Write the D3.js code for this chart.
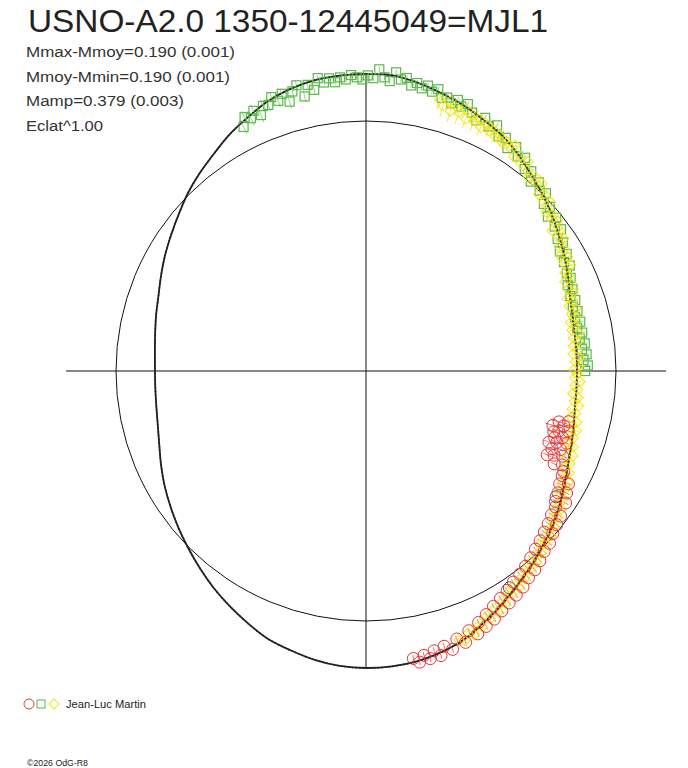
<!DOCTYPE html>
<html lang="en">
<head>
  <meta charset="UTF-8">
  <title>USNO-A2.0 1350-12445049=MJL1</title>
  <style>
    body { margin: 0; background: #fff; }
    text { font-family: "Liberation Sans", Arial, sans-serif; }
  </style>
</head>
<body>

  <svg id="svg" width="688" height="768"></svg>

  <script src="https://d3js.org/d3.v7.min.js"></script>
  <script>
    // phase (0..1, clockwise from top) and delta magnitude from the mean
    const modelCurve = [
      [0.000, -0.190], [0.014, -0.189], [0.028, -0.172], [0.042, -0.150], [0.056, -0.128], [0.069, -0.104],
      [0.083, -0.080], [0.097, -0.048], [0.111, -0.012], [0.125, 0.019], [0.139, 0.050], [0.153, 0.082],
      [0.167, 0.110], [0.181, 0.138], [0.194, 0.162], [0.208, 0.177], [0.222, 0.186], [0.236, 0.189],
      [0.250, 0.190], [0.264, 0.189], [0.278, 0.185], [0.292, 0.172], [0.306, 0.157], [0.319, 0.138],
      [0.333, 0.112], [0.347, 0.081], [0.361, 0.050], [0.375, 0.022], [0.389, -0.008], [0.403, -0.038],
      [0.417, -0.073], [0.431, -0.108], [0.444, -0.140], [0.458, -0.163], [0.472, -0.180], [0.486, -0.188],
      [0.500, -0.190], [0.514, -0.186], [0.528, -0.174], [0.542, -0.156], [0.556, -0.138], [0.569, -0.110],
      [0.583, -0.080], [0.597, -0.050], [0.611, -0.018], [0.625, 0.013], [0.639, 0.042], [0.653, 0.070],
      [0.667, 0.097], [0.681, 0.125], [0.694, 0.150], [0.708, 0.170], [0.722, 0.182], [0.736, 0.188],
      [0.750, 0.190], [0.764, 0.186], [0.778, 0.176], [0.792, 0.162], [0.806, 0.146], [0.819, 0.124],
      [0.833, 0.098], [0.847, 0.072], [0.861, 0.043], [0.875, 0.010], [0.889, -0.020], [0.903, -0.050],
      [0.917, -0.085], [0.931, -0.115], [0.944, -0.145], [0.958, -0.168], [0.972, -0.182], [0.986, -0.188]
    ]

    // green squares: [phase, dmag, error]
    const greenObs = [
      [0.926, -0.084, 0.035], [0.929, -0.121, 0.030], [0.932, -0.105, 0.035], [0.935, -0.130, 0.030],
      [0.938, -0.100, 0.035], [0.941, -0.134, 0.030], [0.944, -0.130, 0.030], [0.947, -0.158, 0.025],
      [0.950, -0.133, 0.030], [0.953, -0.158, 0.025], [0.956, -0.115, 0.030], [0.959, -0.155, 0.025],
      [0.962, -0.177, 0.020], [0.965, -0.121, 0.025], [0.968, -0.168, 0.020], [0.971, -0.141, 0.020],
      [0.974, -0.189, 0.012], [0.977, -0.166, 0.012], [0.980, -0.181, 0.012], [0.983, -0.161, 0.012],
      [0.986, -0.180, 0.012], [0.989, -0.169, 0.012], [0.992, -0.187, 0.012], [0.995, -0.176, 0.012],
      [0.998, -0.166, 0.012], [0.001, -0.184, 0.012], [0.004, -0.172, 0.012], [0.007, -0.212, 0.012],
      [0.010, -0.178, 0.012], [0.013, -0.163, 0.012], [0.016, -0.204, 0.012], [0.019, -0.175, 0.012],
      [0.022, -0.185, 0.012], [0.025, -0.155, 0.012], [0.028, -0.170, 0.012], [0.031, -0.151, 0.012],
      [0.034, -0.168, 0.012], [0.037, -0.146, 0.012], [0.040, -0.163, 0.012], [0.043, -0.130, 0.012],
      [0.046, -0.138, 0.012], [0.049, -0.119, 0.012], [0.052, -0.142, 0.012], [0.055, -0.120, 0.012],
      [0.058, -0.140, 0.012], [0.062, -0.112, 0.012], [0.066, -0.088, 0.012], [0.070, -0.114, 0.012],
      [0.074, -0.087, 0.012], [0.078, -0.108, 0.012], [0.082, -0.068, 0.012], [0.086, -0.079, 0.012],
      [0.090, -0.044, 0.012], [0.094, -0.069, 0.012], [0.098, -0.039, 0.012], [0.102, -0.053, 0.012],
      [0.106, -0.013, 0.012], [0.110, -0.023, 0.012], [0.114, 0.013, 0.012], [0.118, -0.008, 0.012],
      [0.122, 0.016, 0.012], [0.126, 0.005, 0.012], [0.130, 0.044, 0.012], [0.134, 0.033, 0.012],
      [0.138, 0.068, 0.012], [0.142, 0.043, 0.012], [0.146, 0.072, 0.012], [0.150, 0.057, 0.012],
      [0.154, 0.094, 0.012], [0.158, 0.084, 0.012], [0.162, 0.116, 0.012], [0.166, 0.096, 0.012],
      [0.170, 0.124, 0.012], [0.174, 0.108, 0.012], [0.178, 0.136, 0.012], [0.182, 0.129, 0.012],
      [0.186, 0.154, 0.012], [0.190, 0.141, 0.012], [0.194, 0.160, 0.012], [0.198, 0.146, 0.012],
      [0.202, 0.165, 0.012], [0.206, 0.151, 0.012], [0.210, 0.168, 0.012], [0.214, 0.151, 0.012],
      [0.218, 0.170, 0.012], [0.222, 0.152, 0.012], [0.226, 0.167, 0.012], [0.230, 0.148, 0.012],
      [0.234, 0.163, 0.012], [0.238, 0.145, 0.012], [0.242, 0.160, 0.012], [0.246, 0.142, 0.012],
      [0.250, 0.154, 0.012]
    ]

    // yellow diamonds: [phase, dmag, error]
    const yellowObs = [
      [0.042, -0.120, 0.045], [0.045, -0.098, 0.050], [0.048, -0.125, 0.035], [0.050, -0.085, 0.050],
      [0.053, -0.110, 0.040], [0.055, -0.092, 0.055], [0.058, -0.118, 0.030], [0.060, -0.075, 0.045],
      [0.063, -0.100, 0.040], [0.065, -0.082, 0.050], [0.068, -0.098, 0.030], [0.070, -0.068, 0.040],
      [0.073, -0.090, 0.035], [0.075, -0.070, 0.030], [0.078, -0.082, 0.030], [0.080, -0.060, 0.030],
      [0.083, -0.074, 0.025], [0.085, -0.055, 0.025], [0.088, -0.066, 0.020],
      [0.090, -0.054, 0.012], [0.093, -0.073, 0.012], [0.096, -0.028, 0.012], [0.099, -0.047, 0.012],
      [0.102, -0.021, 0.012], [0.105, -0.047, 0.012], [0.108, -0.014, 0.012], [0.111, 0.006, 0.012],
      [0.114, -0.017, 0.012], [0.117, 0.003, 0.012], [0.120, -0.014, 0.012], [0.123, 0.031, 0.012],
      [0.126, 0.013, 0.012], [0.129, 0.040, 0.012], [0.132, 0.017, 0.012], [0.135, 0.061, 0.012],
      [0.138, 0.046, 0.012], [0.141, 0.063, 0.012], [0.144, 0.047, 0.012], [0.147, 0.092, 0.012],
      [0.150, 0.065, 0.012], [0.153, 0.086, 0.012], [0.156, 0.070, 0.012], [0.159, 0.108, 0.012],
      [0.162, 0.094, 0.012], [0.165, 0.126, 0.012], [0.168, 0.098, 0.012], [0.171, 0.126, 0.012],
      [0.174, 0.104, 0.012], [0.177, 0.142, 0.012], [0.180, 0.132, 0.012], [0.183, 0.160, 0.012],
      [0.186, 0.135, 0.012], [0.189, 0.159, 0.012], [0.192, 0.142, 0.012], [0.195, 0.177, 0.012],
      [0.198, 0.158, 0.012], [0.201, 0.180, 0.012], [0.204, 0.155, 0.012], [0.207, 0.180, 0.012],
      [0.210, 0.166, 0.012], [0.213, 0.194, 0.012], [0.216, 0.176, 0.012], [0.219, 0.194, 0.012],
      [0.222, 0.170, 0.012], [0.225, 0.195, 0.012], [0.228, 0.177, 0.012], [0.231, 0.200, 0.012],
      [0.234, 0.185, 0.012], [0.237, 0.205, 0.012], [0.240, 0.177, 0.012], [0.243, 0.196, 0.012],
      [0.246, 0.182, 0.012], [0.249, 0.204, 0.012], [0.252, 0.188, 0.012], [0.255, 0.200, 0.012],
      [0.258, 0.175, 0.012], [0.261, 0.197, 0.012], [0.264, 0.183, 0.012], [0.267, 0.204, 0.012],
      [0.270, 0.177, 0.012], [0.273, 0.191, 0.012], [0.276, 0.170, 0.012], [0.279, 0.196, 0.012],
      [0.282, 0.177, 0.012], [0.285, 0.193, 0.012], [0.288, 0.164, 0.012], [0.291, 0.179, 0.012],
      [0.294, 0.156, 0.012], [0.297, 0.179, 0.012], [0.300, 0.160, 0.012], [0.303, 0.176, 0.012],
      [0.306, 0.147, 0.012], [0.309, 0.161, 0.012], [0.312, 0.134, 0.012], [0.315, 0.156, 0.012],
      [0.318, 0.133, 0.012], [0.321, 0.148, 0.012], [0.324, 0.118, 0.012], [0.327, 0.131, 0.012],
      [0.330, 0.103, 0.012], [0.333, 0.124, 0.012], [0.336, 0.099, 0.012], [0.339, 0.114, 0.012],
      [0.342, 0.082, 0.012], [0.345, 0.093, 0.012], [0.348, 0.065, 0.012], [0.351, 0.084, 0.012],
      [0.354, 0.059, 0.012], [0.357, 0.073, 0.012], [0.360, 0.042, 0.012], [0.363, 0.054, 0.012],
      [0.366, 0.026, 0.012], [0.369, 0.046, 0.012], [0.372, 0.022, 0.012], [0.375, 0.036, 0.012],
      [0.378, 0.006, 0.012], [0.381, 0.017, 0.012], [0.384, -0.011, 0.012], [0.387, 0.008, 0.012],
      [0.390, -0.016, 0.012], [0.393, -0.003, 0.012], [0.396, -0.033, 0.012], [0.399, -0.021, 0.012],
      [0.402, -0.050, 0.012], [0.405, -0.031, 0.012], [0.408, -0.057, 0.012], [0.411, -0.044, 0.012],
      [0.414, -0.076, 0.012], [0.417, -0.065, 0.012], [0.420, -0.094, 0.012], [0.423, -0.076, 0.012],
      [0.426, -0.101, 0.012], [0.429, -0.089, 0.012], [0.432, -0.120, 0.012], [0.435, -0.110, 0.012],
      [0.438, -0.139, 0.012], [0.441, -0.121, 0.012], [0.444, -0.146, 0.012], [0.447, -0.135, 0.012]
    ]

    // red circles: [phase, dmag, error]
    const redObs = [
      [0.289, 0.200, 0.030], [0.291, 0.240, 0.035], [0.293, 0.215, 0.030], [0.295, 0.262, 0.035],
      [0.296, 0.190, 0.025], [0.298, 0.230, 0.030], [0.300, 0.250, 0.030], [0.302, 0.205, 0.025],
      [0.304, 0.238, 0.025], [0.305, 0.180, 0.020], [0.307, 0.222, 0.025], [0.309, 0.255, 0.025],
      [0.311, 0.196, 0.020], [0.313, 0.232, 0.020], [0.315, 0.175, 0.020], [0.317, 0.212, 0.020],
      [0.319, 0.240, 0.020], [0.321, 0.160, 0.015], [0.323, 0.195, 0.015], [0.325, 0.142, 0.015],
      [0.328, 0.140, 0.015], [0.331, 0.098, 0.015], [0.334, 0.132, 0.015], [0.337, 0.085, 0.015],
      [0.340, 0.118, 0.015], [0.343, 0.065, 0.015], [0.346, 0.106, 0.015], [0.349, 0.092, 0.015],
      [0.352, 0.050, 0.015], [0.355, 0.085, 0.015], [0.358, 0.040, 0.015], [0.361, 0.072, 0.015],
      [0.364, 0.028, 0.015], [0.367, 0.060, 0.015], [0.370, 0.010, 0.015], [0.373, 0.048, 0.015],
      [0.376, 0.002, 0.015], [0.379, 0.036, 0.015], [0.382, -0.015, 0.015], [0.385, 0.022, 0.015],
      [0.388, -0.030, 0.015], [0.391, 0.008, 0.015], [0.394, -0.040, 0.015], [0.397, -0.004, 0.015],
      [0.400, -0.058, 0.015], [0.403, -0.015, 0.015], [0.406, -0.070, 0.015], [0.409, -0.030, 0.015],
      [0.412, -0.082, 0.015], [0.415, -0.045, 0.015], [0.418, -0.096, 0.015], [0.421, -0.060, 0.015],
      [0.424, -0.112, 0.015], [0.427, -0.078, 0.015], [0.430, -0.125, 0.015], [0.433, -0.095, 0.015],
      [0.436, -0.140, 0.015], [0.440, -0.112, 0.015], [0.444, -0.155, 0.015], [0.448, -0.128, 0.015],
      [0.452, -0.166, 0.015], [0.456, -0.142, 0.015], [0.459, -0.178, 0.015], [0.462, -0.150, 0.015],
      [0.465, -0.180, 0.015], [0.468, -0.160, 0.015], [0.471, -0.186, 0.015], [0.474, -0.165, 0.015]
    ]

    // black circles
    const blackObs = [[0.343, 0.115, 0.015], [0.407, -0.026, 0.015]]

    const statLines = ['Mmax-Mmoy=0.190 (0.001)', 'Mmoy-Mmin=0.190 (0.001)', 'Mamp=0.379 (0.003)', 'Eclat^1.00']
    const statWidths = [209, 204, 158, 77]
    const observer = 'Jean-Luc Martin'

    const cx = 366, cy = 371, R = 250
    const svg = d3.select('#svg').style('background-color', 'white')
    svg.append('rect').attr('width', 688).attr('height', 768).attr('fill', 'white')

    const angle = d => d[0] * 2 * Math.PI
    const rScale = d3.scaleLinear()
      .domain([-0.19, 0.19])
      .range([297, 211])

    const g = svg.append('g').attr('transform', `translate(${cx},${cy})`)

    // reference circle and axes
    g.append('circle').attr('r', R).attr('fill', 'none').attr('stroke', '#111').attr('stroke-width', 1)
    g.append('line').attr('x1', -R * 1.2).attr('x2', R * 1.2).attr('y1', 0).attr('y2', 0)
      .attr('stroke', '#111').attr('stroke-width', 1)
    g.append('line').attr('y1', -R * 1.19).attr('y2', R * 1.19).attr('x1', 0).attr('x2', 0)
      .attr('stroke', '#111').attr('stroke-width', 1)

    // model curve (solid underneath the points)
    const line = d3.lineRadial()
      .angle(angle)
      .radius(d => rScale(d[1]))
      .curve(d3.curveCatmullRomClosed.alpha(0.5))
    g.append('path')
      .datum(modelCurve)
      .attr('d', line)
      .attr('fill', 'none')
      .attr('stroke', '#222')
      .attr('stroke-width', 1.8)

    const pt = (d, dm) => d3.pointRadial(angle(d), rScale(dm === undefined ? d[1] : dm))

    function errorBars(data, color) {
      g.append('g').selectAll('line')
        .data(data)
        .enter()
        .append('line')
        .attr('x1', d => pt(d, d[1] - d[2])[0])
        .attr('y1', d => pt(d, d[1] - d[2])[1])
        .attr('x2', d => pt(d, d[1] + d[2])[0])
        .attr('y2', d => pt(d, d[1] + d[2])[1])
        .attr('stroke', color)
        .attr('stroke-width', 0.8)
    }

    errorBars(greenObs, '#7cc766')
    errorBars(yellowObs, '#f3e21a')
    errorBars(redObs, '#ec4a4a')

    // green squares
    g.append('g').selectAll('rect')
      .data(greenObs)
      .enter()
      .append('rect')
      .attr('x', d => pt(d)[0] - 4.5)
      .attr('y', d => pt(d)[1] - 4.5)
      .attr('width', 9).attr('height', 9)
      .attr('fill', 'none')
      .attr('stroke', '#5cb84a')
      .attr('stroke-width', 1.2)

    // yellow diamonds
    g.append('g').selectAll('rect')
      .data(yellowObs)
      .enter()
      .append('rect')
      .attr('x', -3.6).attr('y', -3.6).attr('width', 7.2).attr('height', 7.2)
      .attr('transform', d => `translate(${pt(d)[0]},${pt(d)[1]}) rotate(45)`)
      .attr('fill', 'none')
      .attr('stroke', '#f5e414')
      .attr('stroke-width', 1)

    // red circles
    g.append('g').selectAll('circle')
      .data(redObs)
      .enter()
      .append('circle')
      .attr('cx', d => pt(d)[0])
      .attr('cy', d => pt(d)[1])
      .attr('r', 6)
      .attr('fill', 'none')
      .attr('stroke', '#e83434')
      .attr('stroke-width', 1)

    g.append('g').selectAll('circle')
      .data(blackObs)
      .enter()
      .append('circle')
      .attr('cx', d => pt(d)[0])
      .attr('cy', d => pt(d)[1])
      .attr('r', 6)
      .attr('fill', 'none')
      .attr('stroke', '#555')
      .attr('stroke-width', 1)

    // model curve again, dotted on top
    g.append('path')
      .datum(modelCurve)
      .attr('d', line)
      .attr('fill', 'none')
      .attr('stroke', '#222')
      .attr('stroke-width', 1.6)
      .attr('stroke-dasharray', '1.3,2.4')

    // texts
    svg.append('text')
      .attr('x', 28).attr('y', 32)
      .attr('font-size', 31)
      .attr('fill', '#222')
      .attr('textLength', 520)
      .attr('lengthAdjust', 'spacingAndGlyphs')
      .text('USNO-A2.0 1350-12445049=MJL1')

    svg.append('g').selectAll('text')
      .data(statLines)
      .enter()
      .append('text')
      .attr('x', 26)
      .attr('y', (d, i) => 57 + i * 24.7)
      .attr('font-size', 15.5)
      .attr('fill', '#333')
      .attr('textLength', (d, i) => statWidths[i])
      .attr('lengthAdjust', 'spacingAndGlyphs')
      .text(d => d)

    // legend
    const leg = svg.append('g').attr('transform', 'translate(0,704)')
    leg.append('circle').attr('cx', 29).attr('cy', 0).attr('r', 5)
      .attr('fill', 'none').attr('stroke', '#e83434')
    leg.append('rect').attr('x', 37).attr('y', -4).attr('width', 8).attr('height', 8)
      .attr('fill', 'none').attr('stroke', '#5cb84a')
    leg.append('rect').attr('x', -3.5).attr('y', -3.5).attr('width', 7).attr('height', 7)
      .attr('transform', 'translate(54,0) rotate(45)')
      .attr('fill', 'none').attr('stroke', '#f5e414')
    leg.append('text').attr('x', 66).attr('y', 4)
      .attr('font-size', 10).attr('fill', '#222')
      .attr('textLength', 80).attr('lengthAdjust', 'spacingAndGlyphs')
      .text(observer)

    svg.append('text')
      .attr('x', 27).attr('y', 766)
      .attr('font-size', 8.5).attr('fill', '#222')
      .attr('textLength', 61).attr('lengthAdjust', 'spacingAndGlyphs')
      .text('©2026 OdG-R8')
  </script>
</body>
</html>
